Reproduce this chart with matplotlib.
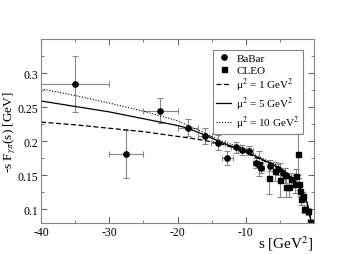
import matplotlib
matplotlib.use("Agg")
import matplotlib.pyplot as plt
import matplotlib.lines as mlines
from matplotlib.ticker import MultipleLocator, FixedLocator, FormatStrFormatter

plt.rcParams['font.family'] = ['Liberation Serif', 'DejaVu Serif']
plt.rcParams['mathtext.fontset'] = 'stix'
plt.rcParams['axes.unicode_minus'] = False

# BaBar data (circles)
babar_s = [-35.0, -27.5, -22.5, -18.5, -16.0, -14.1, -12.7, -11.5, -10.5, -9.5,
           -8.5, -7.8, -6.4, -5.3, -4.5]
babar_y = [0.284, 0.181, 0.245, 0.220, 0.2075, 0.198, 0.175, 0.191, 0.187, 0.186,
           0.168, 0.161, 0.164, 0.159, 0.153]
babar_yerr = [0.041, 0.035, 0.018, 0.013, 0.012, 0.011, 0.010, 0.008, 0.007, 0.007,
              0.007, 0.007, 0.008, 0.008, 0.008]
babar_xerr = [5.0, 2.5, 2.5, 1.5, 1.0, 1.0, 0.8, 0.7, 0.6, 0.5,
              0.5, 0.4, 0.4, 0.3, 0.3]

# CLEO data (squares)
cleo_s = [-8.0, -6.6, -5.75, -5.0, -4.2, -4.15, -3.7, -3.3, -2.8, -2.65, -2.3, -2.2,
          -2.0, -1.85, -1.6, -1.4, -0.9, -0.55]
cleo_y = [0.167, 0.146, 0.156, 0.143, 0.150, 0.132, 0.132, 0.144, 0.137, 0.149, 0.181, 0.137,
          0.127, 0.115, 0.120, 0.100, 0.097, 0.081]
cleo_yerr = [0.018, 0.024, 0.014, 0.025, 0.011, 0.014, 0.014, 0.009, 0.013, 0.010, 0.031, 0.009,
             0.007, 0.008, 0.006, 0.006, 0.005, 0.004]

# theory curves
curve_s = [-40, -35, -30, -25, -20, -18.5, -16, -14, -12, -10, -8, -6, -4, -3, -2, -1.5, -1, -0.5]
mu1_y = [0.228, 0.224, 0.219, 0.214, 0.207, 0.205, 0.201, 0.197, 0.191, 0.183, 0.174, 0.165,
         0.152, 0.143, 0.130, 0.121, 0.108, 0.085]
mu5_y = [0.259, 0.251, 0.243, 0.233, 0.223, 0.219, 0.209, 0.200, 0.192, 0.185, 0.175, 0.166,
         0.153, 0.144, 0.131, 0.122, 0.109, 0.086]
mu10_y = [0.277, 0.267, 0.256, 0.244, 0.230, 0.223, 0.212, 0.202, 0.195, 0.187, 0.177, 0.167,
          0.154, 0.145, 0.132, 0.123, 0.110, 0.087]

y_ticks = [0.1, 0.15, 0.2, 0.25, 0.3]
x_ticks = [-40, -30, -20, -10]

fig = plt.figure(figsize=(3.54, 2.55), dpi=100)
ax = fig.add_axes([0.116, 0.122, 0.771, 0.721])

ax.errorbar(babar_s, babar_y, yerr=babar_yerr, xerr=babar_xerr, fmt='o', color='black',
            ms=3.8, ecolor='#888888', elinewidth=0.8, capsize=2, capthick=0.8)
ax.errorbar(cleo_s, cleo_y, yerr=cleo_yerr, fmt='s', color='black',
            ms=3.6, ecolor='#888888', elinewidth=0.8, capsize=2, capthick=0.8)
l1, = ax.plot(curve_s, mu1_y, color='black', lw=0.9, ls=(0, (4, 2)))
l2, = ax.plot(curve_s, mu5_y, color='black', lw=0.9, ls='-')
l3, = ax.plot(curve_s, mu10_y, color='black', lw=0.8, ls=(0, (1, 1.5)))

ax.set_xlim(-40, 0)
ax.set_ylim(0.08, 0.35)
ax.xaxis.set_major_locator(FixedLocator(x_ticks))
ax.xaxis.set_minor_locator(MultipleLocator(5))
ax.yaxis.set_major_locator(FixedLocator(y_ticks))
ax.yaxis.set_minor_locator(MultipleLocator(0.025))
ax.yaxis.set_major_formatter(FormatStrFormatter('%g'))
ax.tick_params(which='both', direction='in', top=True, right=True, labelsize=8.5, color='#666666', pad=2)
ax.tick_params(which='major', length=4)
ax.tick_params(which='minor', length=2)
for sp in ax.spines.values():
    sp.set_color('#888888')

ax.set_xlabel('s [GeV$^2$]', fontsize=11, loc='right', labelpad=-3)
ax.set_ylabel(r'-s F$_{\gamma\pi}$(s) [GeV]', fontsize=9.5)
ax.yaxis.set_label_coords(-0.086, 0.5)

hb = mlines.Line2D([], [], color='black', marker='o', ls='none', ms=3.8)
hc = mlines.Line2D([], [], color='black', marker='s', ls='none', ms=3.6)
leg = ax.legend([hb, hc, l1, l2, l3],
                ['BaBar', 'CLEO', 'μ$^2$ = 1 GeV$^2$', 'μ$^2$ = 5 GeV$^2$', 'μ$^2$ = 10 GeV$^2$'],
                loc='upper right', fontsize=8, frameon=True, fancybox=False,
                handlelength=1.3, handletextpad=0.5, borderpad=0.3, labelspacing=0.15,
                borderaxespad=1.0)
leg.get_frame().set_edgecolor('#666666')
leg.get_frame().set_linewidth(0.8)

plt.savefig("out.png", dpi=100)
